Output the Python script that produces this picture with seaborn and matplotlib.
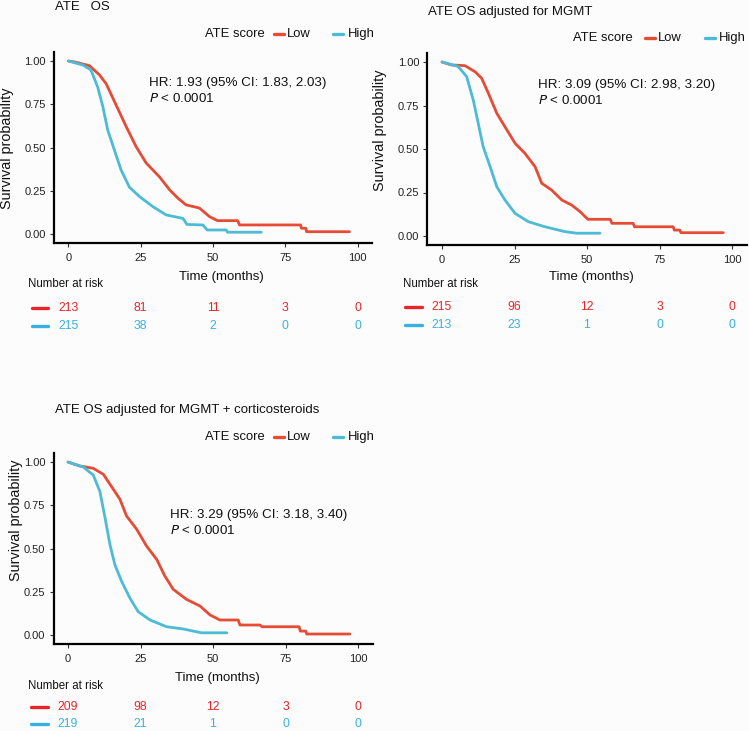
import numpy as np
import pandas as pd
import matplotlib
matplotlib.use("Agg")
import matplotlib.pyplot as plt
import matplotlib.transforms as mtransforms
from matplotlib.lines import Line2D
import seaborn as sns

# ---- data ----
titles = ["ATE   OS", "ATE OS adjusted for MGMT", "ATE OS adjusted for MGMT + corticosteroids"]
hr_text = ["HR: 1.93 (95% CI: 1.83, 2.03)", "HR: 3.09 (95% CI: 2.98, 3.20)", "HR: 3.29 (95% CI: 3.18, 3.40)"]
groups = ["Low", "High"]
risk_times = [0, 25, 50, 75, 100]
risk_low = [[213, 81, 11, 3, 0], [215, 96, 12, 3, 0], [209, 98, 12, 3, 0]]
risk_high = [[215, 38, 2, 0, 0], [213, 23, 1, 0, 0], [219, 21, 1, 0, 0]]

low1_t = [0, 2, 7.3, 10.7, 13, 16.5, 20, 23.4, 26.9, 31.5, 35, 38, 40.7, 45.3, 48.8, 51.6, 58.5, 59.2, 80.3, 80.6, 82.1, 82.4, 97.2]
low1_s = [1, 0.995, 0.973, 0.92, 0.87, 0.745, 0.62, 0.505, 0.41, 0.33, 0.255, 0.205, 0.168, 0.15, 0.10, 0.077, 0.077, 0.052, 0.052, 0.033, 0.033, 0.013, 0.013]
high1_t = [0, 5, 7.8, 10.1, 11.9, 13.6, 15.9, 18.2, 21.1, 24.6, 29.2, 33.8, 39.6, 41, 46.5, 48, 54.6, 55, 66.7]
high1_s = [1, 0.977, 0.948, 0.85, 0.736, 0.60, 0.485, 0.37, 0.27, 0.216, 0.158, 0.11, 0.09, 0.055, 0.052, 0.023, 0.023, 0.01, 0.01]

low2_t = [0, 3.3, 7.9, 11.4, 13.7, 16, 18.9, 21.7, 25.2, 28.6, 32.1, 34.4, 37.8, 41.3, 44.7, 47.6, 50.3, 58, 58.6, 65.9, 66.4, 79.7, 80.1, 82, 82.4, 97]
low2_s = [1, 0.983, 0.979, 0.944, 0.906, 0.82, 0.705, 0.628, 0.533, 0.475, 0.398, 0.303, 0.264, 0.207, 0.178, 0.14, 0.096, 0.096, 0.073, 0.073, 0.053, 0.053, 0.034, 0.034, 0.019, 0.019]
high2_t = [0, 5.6, 8.5, 10.8, 12.5, 14.2, 16.6, 18.9, 21.7, 25.2, 29.8, 35.5, 42.4, 46.5, 54.5]
high2_s = [1, 0.974, 0.916, 0.78, 0.647, 0.513, 0.398, 0.283, 0.207, 0.13, 0.082, 0.053, 0.025, 0.016, 0.016]

low3_t = [0, 4.1, 8.7, 12.2, 14.5, 17.9, 20.2, 23.7, 27.1, 30.6, 33.4, 36.3, 40.9, 45.5, 49, 52.4, 58.7, 59.3, 66.2, 66.9, 79.7, 80.1, 82, 82.3, 97.2]
low3_s = [1, 0.977, 0.964, 0.929, 0.871, 0.785, 0.688, 0.611, 0.514, 0.437, 0.341, 0.264, 0.206, 0.168, 0.116, 0.087, 0.087, 0.058, 0.058, 0.048, 0.048, 0.023, 0.023, 0.006, 0.006]
high3_t = [0, 5.3, 8.7, 11, 12.8, 14.5, 16.2, 18.5, 21.4, 24.2, 28.3, 34, 39.8, 44, 46, 54.8]
high3_s = [1, 0.971, 0.925, 0.83, 0.675, 0.52, 0.405, 0.31, 0.212, 0.135, 0.087, 0.048, 0.035, 0.02, 0.013, 0.013]

curves = [((low1_t, low1_s), (high1_t, high1_s)),
          ((low2_t, low2_s), (high2_t, high2_s)),
          ((low3_t, low3_s), (high3_t, high3_s))]

# ---- style ----
sns.set_theme(style="white")
plt.rcParams["font.family"] = ["Liberation Sans", "DejaVu Sans"]
bg = "#fcfcfc"
palette = {"Low": "#E64B35", "High": "#4DBBD5"}
risk_cols = {"Low": "#E8262A", "High": "#3AB0E2"}
txt = "#111111"

W, H = 749, 731
fig = plt.figure(figsize=(W / 100, H / 100), dpi=100, facecolor=bg)


def fx(px):
    return px / W


def fy(py):
    return 1 - py / H


# panel layout in pixels: axes box, title, legend, labels, risk table
panels = [
    dict(box=(54, 52.4, 372, 242.6), title=(55, 7), legend=(205, 34, 69, 82, 128, 143), ylab=(-0.126, 0.497),
         xlab=(221, 277), hr=(28, 0.873, 0.786), risk_head=(28, 284), risk_rows=(308, 326), dash_x=(32, 48)),
    dict(box=(427.5, 53.3, 746.5, 244.7), title=(428, 12), legend=(573, 38, 72, 85, 132, 146), ylab=(-0.127, 0.60),
         xlab=(591, 277), hr=(33, 0.868, 0.78), risk_head=(403, 284), risk_rows=(307, 325), dash_x=(405, 422)),
    dict(box=(53.5, 453.4, 372.5, 643.7), title=(55, 410), legend=(205, 437, 69, 82, 128, 143), ylab=(-0.096, 0.65),
         xlab=(217, 678), hr=(35, 0.694, 0.607), risk_head=(28, 686), risk_rows=(707, 724), dash_x=(31, 48)),
]

for i, p in enumerate(panels):
    l, t, r, b = p["box"]
    ax = fig.add_axes([fx(l), fy(b), fx(r - l), (b - t) / H])
    ax.set_facecolor(bg)

    (lt, ls), (ht, hs) = curves[i]
    df = pd.concat([
        pd.DataFrame({"time": lt, "surv": ls, "group": "Low"}),
        pd.DataFrame({"time": ht, "surv": hs, "group": "High"}),
    ])
    sns.lineplot(data=df, x="time", y="surv", hue="group", palette=palette,
                 estimator=None, sort=False, legend=False, linewidth=2.0, ax=ax)

    ax.set_xlim(-5, 105)
    ax.set_ylim(-0.05, 1.05)
    ax.set_xticks([0, 25, 50, 75, 100])
    ax.set_yticks([0, 0.25, 0.5, 0.75, 1.0])
    ax.set_yticklabels(["0.00", "0.25", "0.50", "0.75", "1.00"])
    ax.tick_params(axis="both", labelsize=8, length=3, width=0.8, color="#333333",
                   labelcolor="#222222", left=True, bottom=True)
    ax.tick_params(axis="x", pad=4.5)
    ax.tick_params(axis="y", pad=3)
    for s in ["top", "right"]:
        ax.spines[s].set_visible(False)
    for s in ["left", "bottom"]:
        ax.spines[s].set_color("black")
        ax.spines[s].set_linewidth(1.6)
    ax.set_xlabel("")
    ax.set_ylabel("Survival probability", fontsize=10.4, color=txt)
    ax.yaxis.set_label_coords(*p["ylab"])

    # HR annotation
    hx, hy1, hy2 = p["hr"]
    ax.text(hx, hy1, hr_text[i], fontsize=9.6, va="center", ha="left", color=txt)
    ax.text(hx, hy2, "$P$ < 0.0001", fontsize=9.6, va="center", ha="left", color=txt)

    # title and x label
    fig.text(fx(p["title"][0]), fy(p["title"][1]), titles[i], fontsize=9.5, va="center", ha="left", color=txt)
    fig.text(fx(p["xlab"][0]), fy(p["xlab"][1]), "Time (months)", fontsize=9.5, va="center", ha="center", color=txt)

    # legend
    lx, ly, r0, tl, b0, th = p["legend"]
    fig.text(fx(lx), fy(ly), "ATE score", fontsize=9.4, va="center", ha="left", color=txt)
    fig.add_artist(Line2D([fx(lx + r0), fx(lx + r0 + 10)], [fy(ly), fy(ly)], color=palette["Low"], lw=2.4))
    fig.text(fx(lx + tl), fy(ly), "Low", fontsize=9.4, va="center", ha="left", color=txt)
    fig.add_artist(Line2D([fx(lx + b0), fx(lx + b0 + 10)], [fy(ly), fy(ly)], color=palette["High"], lw=2.4))
    fig.text(fx(lx + th), fy(ly), "High", fontsize=9.4, va="center", ha="left", color=txt)

    # number at risk table
    fig.text(fx(p["risk_head"][0]), fy(p["risk_head"][1]), "Number at risk", fontsize=8.3,
             va="center", ha="left", color=txt)
    trans = mtransforms.blended_transform_factory(ax.transData, fig.transFigure)
    for g, vals, ry in [("Low", risk_low[i], p["risk_rows"][0]), ("High", risk_high[i], p["risk_rows"][1])]:
        d0, d1 = p["dash_x"]
        fig.add_artist(Line2D([fx(d0), fx(d1)], [fy(ry), fy(ry)], color=risk_cols[g], lw=2.4))
        for tt, v in zip(risk_times, vals):
            ax.text(tt, fy(ry), str(v), transform=trans, fontsize=8.8, ha="center", va="center",
                    color=risk_cols[g], clip_on=False)

fig.savefig("out.png", dpi=100, facecolor=bg)
